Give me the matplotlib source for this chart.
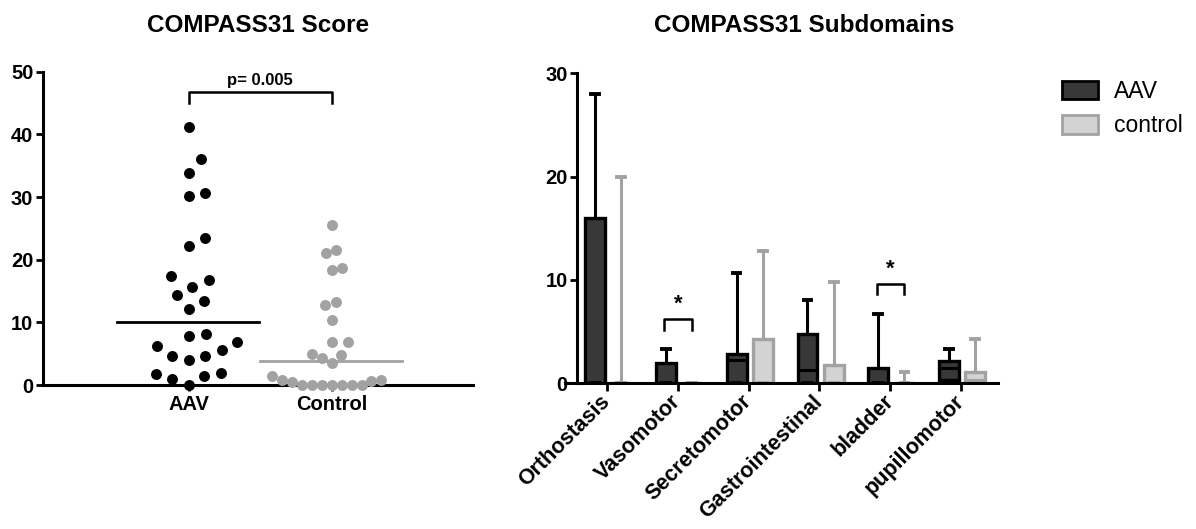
import numpy as np
import matplotlib
matplotlib.use('Agg')
import matplotlib.pyplot as plt
from matplotlib.patches import Patch

plt.rcParams['font.family'] = ['Liberation Sans', 'DejaVu Sans']

# left panel: individual COMPASS31 scores
aav_scores = [41.1, 36.0, 33.8, 30.7, 30.1, 23.4, 22.2, 17.4, 16.7, 15.7, 14.4, 13.4, 12.1,
              8.1, 7.9, 6.8, 6.3, 5.6, 4.7, 4.7, 4.0, 1.9, 1.7, 1.5, 0.9, 0.0]
control_scores = [25.5, 21.6, 21.1, 18.6, 18.4, 13.2, 12.7, 10.3, 6.9, 6.8, 4.9, 4.8, 4.3,
                  3.5, 1.4, 0.8, 0.8, 0.7, 0.5, 0, 0, 0, 0, 0, 0, 0]
groups = ['AAV', 'Control']
p_text = 'p= 0.005'

# right panel: subdomain box summaries
domains = ['Orthostasis', 'Vasomotor', 'Secretomotor', 'Gastrointestinal', 'bladder', 'pupillomotor']
aav_min = [0, 0, 0, 0, 0, 0]
aav_q1 = [0, 0, 0, 0, 0, 0.35]
aav_med = [0, 0, 2.3, 1.3, 0, 1.45]
aav_q3 = [16, 2.0, 2.8, 4.8, 1.45, 2.15]
aav_max = [28, 3.3, 10.7, 8.1, 6.7, 3.3]
ctl_min = [0, 0, 0, 0, 0, 0]
ctl_q1 = [0, 0, 0, 0, 0, 0]
ctl_med = [0, 0, 0, 0, 0, 0.3]
ctl_q3 = [0, 0, 4.3, 1.8, 0, 1.1]
ctl_max = [20, 0, 12.8, 9.8, 1.1, 4.3]
signif = ['Vasomotor', 'bladder']

DARK = '#383838'
LIGHT = '#d3d3d3'
GRAY = '#a2a2a2'


def swarm(ax, vals, dx_px, dy_px):
    # beeswarm in pixel space, elliptical keep-out zone
    t = ax.transData
    ppx = t.transform((1, 0))[0] - t.transform((0, 0))[0]
    ppy = t.transform((0, 1))[1] - t.transform((0, 0))[1]
    vals = np.asarray(vals, float)
    order = np.argsort(vals, kind='stable')
    placed = []
    offs = np.zeros(len(vals))
    side = 1

    def hit(c, y):
        return any(((c - px) / dx_px) ** 2 + ((y - py) / dy_px) ** 2 < 1 - 1e-3
                   for px, py in placed)

    for i in order:
        y = vals[i] * ppy
        cands = [0.0]
        for (px, py) in placed:
            d = abs(py - y)
            if d < dy_px:
                w = dx_px * np.sqrt(1 - (d / dy_px) ** 2)
                cands += [px + w, px - w]
        cands = sorted(set(np.round(cands, 3)), key=lambda c: (round(abs(c) / 2), -side * c))
        c = cands[-1]
        for c in cands:
            if not hit(c, y):
                break
        placed.append((c, y))
        offs[i] = c / ppx
        side = -side
    return offs


fig = plt.figure(figsize=(11.96, 5.29), dpi=100)

# ---------------- left panel
ax1 = fig.add_axes([0.036, 0.2722, 0.3595, 0.5923])
ax1.set_xlim(-1.02, 1.99)
ax1.set_ylim(0, 50)
for s in ['top', 'right']:
    ax1.spines[s].set_visible(False)
for s in ['left', 'bottom']:
    ax1.spines[s].set_linewidth(2.2)

spacing = [17, 10]
for k, (vals, col) in enumerate([(aav_scores, 'black'), (control_scores, GRAY)]):
    off = swarm(ax1, vals, spacing[k], 20)
    ax1.scatter(k + off, vals, s=62, color=col, linewidths=0, zorder=3, clip_on=False)
    ax1.plot([k - 0.5, k + 0.49], [np.median(vals)] * 2, color=col, lw=2, zorder=2)

ax1.plot([0, 0, 1, 1], [45.0, 46.8, 46.8, 45.0], color='black', lw=1.8)
ax1.text(0.5, 47.4, p_text, ha='center', va='bottom', fontsize=12, fontweight='bold')

ax1.set_yticks(range(0, 51, 10))
ax1.set_xticks([0, 1])
ax1.set_xticklabels(groups)
ax1.tick_params(axis='y', length=5, width=2, labelsize=14.5, pad=2)
ax1.tick_params(axis='x', length=4, width=2, labelsize=14.5, pad=3)
for lab in ax1.get_xticklabels() + ax1.get_yticklabels():
    lab.set_fontweight('bold')
fig.text(258 / 1196, 1 - 26 / 529, 'COMPASS31 Score', ha='center', va='center',
         fontsize=17.5, fontweight='bold')

# ---------------- right panel
ax2 = fig.add_axes([0.4724, 0.2754, 0.362, 0.586])
ax2.set_xlim(-0.593, 5.52)
ax2.set_ylim(0, 30)
for s in ['top', 'right']:
    ax2.spines[s].set_visible(False)
for s in ['left', 'bottom']:
    ax2.spines[s].set_linewidth(2.2)
ax2.spines['left'].set_position(('data', -0.42))

x = np.arange(len(domains))


def stats(mn, q1, med, q3, mx):
    return [dict(whislo=a, q1=b, med=c, q3=d, whishi=e, fliers=[])
            for a, b, c, d, e in zip(mn, q1, med, q3, mx)]


ax2.bxp(stats(aav_min, aav_q1, aav_med, aav_q3, aav_max), positions=x - 0.17, widths=0.28,
        capwidths=0.11, patch_artist=True, showfliers=False,
        boxprops=dict(facecolor=DARK, edgecolor='black', linewidth=2.4),
        whiskerprops=dict(color='black', linewidth=2.2),
        capprops=dict(color='black', linewidth=2.8),
        medianprops=dict(color='black', linewidth=2.2), manage_ticks=False)
ax2.bxp(stats(ctl_min, ctl_q1, ctl_med, ctl_q3, ctl_max), positions=x + 0.2, widths=0.28,
        capwidths=0.11, patch_artist=True, showfliers=False,
        boxprops=dict(facecolor=LIGHT, edgecolor=GRAY, linewidth=2.4),
        whiskerprops=dict(color=GRAY, linewidth=2.2),
        capprops=dict(color=GRAY, linewidth=2.8),
        medianprops=dict(color=GRAY, linewidth=2.2), manage_ticks=False)

for name in signif:
    i = domains.index(name)
    top = max(aav_max[i], ctl_max[i]) + 2.9
    ax2.plot([i - 0.19, i - 0.19, i + 0.2, i + 0.2], [top - 1, top, top, top - 1],
             color='black', lw=1.8)
    ax2.text(i, top + 0.4, '*', ha='center', va='bottom', fontsize=16, fontweight='bold')

ax2.set_yticks([0, 10, 20, 30])
ax2.set_xticks(x)
ax2.set_xticklabels(domains, rotation=45, ha='right', va='center', rotation_mode='anchor')
ax2.tick_params(axis='y', length=5, width=2, labelsize=14.5, pad=2)
ax2.tick_params(axis='x', length=6, width=2, labelsize=15.5, pad=5)
for lab in ax2.get_xticklabels() + ax2.get_yticklabels():
    lab.set_fontweight('bold')
fig.text(804 / 1196, 1 - 26 / 529, 'COMPASS31 Subdomains', ha='center', va='center',
         fontsize=17.5, fontweight='bold')

handles = [Patch(facecolor=DARK, edgecolor='black', linewidth=2),
           Patch(facecolor=LIGHT, edgecolor=GRAY, linewidth=2)]
fig.legend(handles, ['AAV', 'control'], loc='upper left', bbox_to_anchor=(1062 / 1196, 1 - 80 / 529),
           frameon=False, fontsize=16.5, handlelength=1.57, handleheight=0.87, labelspacing=0.5,
           handletextpad=0.7, borderpad=0, borderaxespad=0)

fig.savefig('out.png', dpi=100)
